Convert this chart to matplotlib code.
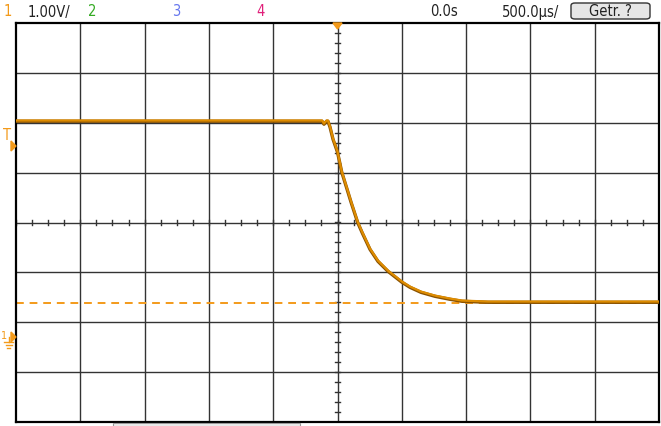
import numpy as np
import matplotlib.pyplot as plt
from matplotlib.patches import FancyBboxPatch, Polygon

# Scope settings
us_per_div = 500.0
v_per_div = 1.0
ground_div = -2.29   # channel 1 ground marker, in divisions from centre
cursor_v = 0.68      # dashed level line, volts

# Channel 1 trace (time in us, volts)
time_us = [-2500, -120, -105, -85, -74, -58, -35, 0, 33, 74, 105, 157, 191,
           253, 315, 393, 502, 564, 649, 758, 875, 968, 1170, 2500]
volts = [4.33, 4.33, 4.27, 4.33, 4.33, 4.21, 3.97, 3.71, 3.31, 2.97, 2.71,
         2.30, 2.10, 1.76, 1.52, 1.32, 1.10, 1.00, 0.90, 0.82, 0.76, 0.72,
         0.70, 0.70]

W, H = 661, 427
fig = plt.figure(figsize=(W / 100, H / 100), dpi=100)
fig.patch.set_facecolor('white')

def px(x, y):
    return x / W, 1 - y / H

left, right, top, bottom = 16, 659, 24, 423
ax = fig.add_axes([left / W, 1 - bottom / H, (right - left) / W, (bottom - top) / H])
ax.set_xlim(-5, 5)
ax.set_ylim(-4, 4)
ax.set_xticks([])
ax.set_yticks([])
for s in ax.spines.values():
    s.set_linewidth(1.6)
    s.set_color('black')

grid_c = '#333333'
for gx in range(-4, 5):
    ax.axvline(gx, color=grid_c, lw=1.0, zorder=1)
for gy in range(-3, 4):
    ax.axhline(gy, color=grid_c, lw=1.0, zorder=1)

# minor ticks on the centre lines
for mx in np.arange(-5, 5.01, 0.25):
    ax.plot([mx, mx], [-0.05, 0.05], color=grid_c, lw=1.0, zorder=1)
for my in np.arange(-4, 4.01, 0.2):
    ax.plot([-0.045, 0.045], [my, my], color=grid_c, lw=1.0, zorder=1)

t_div = np.array(time_us) / us_per_div
v_div = np.array(volts) / v_per_div + ground_div

ax.axhline(cursor_v / v_per_div + ground_div, color='#f39a1a', lw=1.4,
           ls=(0, (4, 3)), zorder=2)
ax.plot(t_div, v_div - 0.01, color='#8a5200', lw=2.4, zorder=3)
ax.plot(t_div, v_div + 0.005, color='#de8c00', lw=1.6, zorder=4)

# trigger position marker at top
ax.add_patch(Polygon([[-0.07, 4.0], [0.07, 4.0], [0, 3.88]], closed=True,
                     color='#f39a1a', clip_on=False, zorder=5))

orange = '#f39a1a'
font = dict(family='DejaVu Sans', fontstretch='condensed', fontsize=10.5, va='center')

# left side markers
fig.text(*px(7, 136), 'T', color=orange, ha='center', **font)
fig.patches.append(Polygon([px(11, 142), px(11, 152), px(16, 147)], closed=True,
                           color=orange, transform=fig.transFigure))
fig.text(*px(4, 336), '1', color=orange, ha='center', fontsize=7, va='center')
fig.patches.append(Polygon([px(11, 333), px(11, 343), px(16, 338)], closed=True,
                           color=orange, transform=fig.transFigure))
for gx0, gx1, gy in [(4, 13, 343), (5.5, 11.5, 346), (7, 10, 349)]:
    fig.lines.append(plt.Line2D([gx0 / W, gx1 / W], [1 - gy / H, 1 - gy / H],
                                color=orange, lw=1, transform=fig.transFigure))
fig.lines.append(plt.Line2D([8.5 / W, 8.5 / W], [1 - 338 / H, 1 - 343 / H],
                            color=orange, lw=1, transform=fig.transFigure))

# header
fig.text(*px(4, 12), '1', color=orange, ha='left', **font)
fig.text(*px(28, 12), '1.00V/', color='#222222', ha='left', **font)
fig.text(*px(88, 12), '2', color='#33aa22', ha='left', **font)
fig.text(*px(172, 12), '3', color='#6677ee', ha='left', **font)
fig.text(*px(256, 12), '4', color='#e0207a', ha='left', **font)
fig.text(*px(430, 12), '0.0s', color='#222222', ha='left', **font)
fig.text(*px(502, 12), '500.0µs/', color='#222222', ha='left', **font)

x0, y0 = px(571, 20)
x1, y1 = px(650, 4)
fig.patches.append(FancyBboxPatch((x0, y0), x1 - x0, y1 - y0,
                                  boxstyle='round,pad=0,rounding_size=0.006',
                                  fc='#e6e6e6', ec='#333333', lw=1,
                                  transform=fig.transFigure))
fig.text(*px(610, 12), 'Getr. ?', color='#222222', ha='center', **font)

# scroll bar stub at the bottom
fig.patches.append(plt.Rectangle(px(113, 427), 187 / W, 3 / H, fc='#eeeeee',
                                 ec='#999999', lw=0.8, transform=fig.transFigure))

fig.savefig('out.png', dpi=100)
